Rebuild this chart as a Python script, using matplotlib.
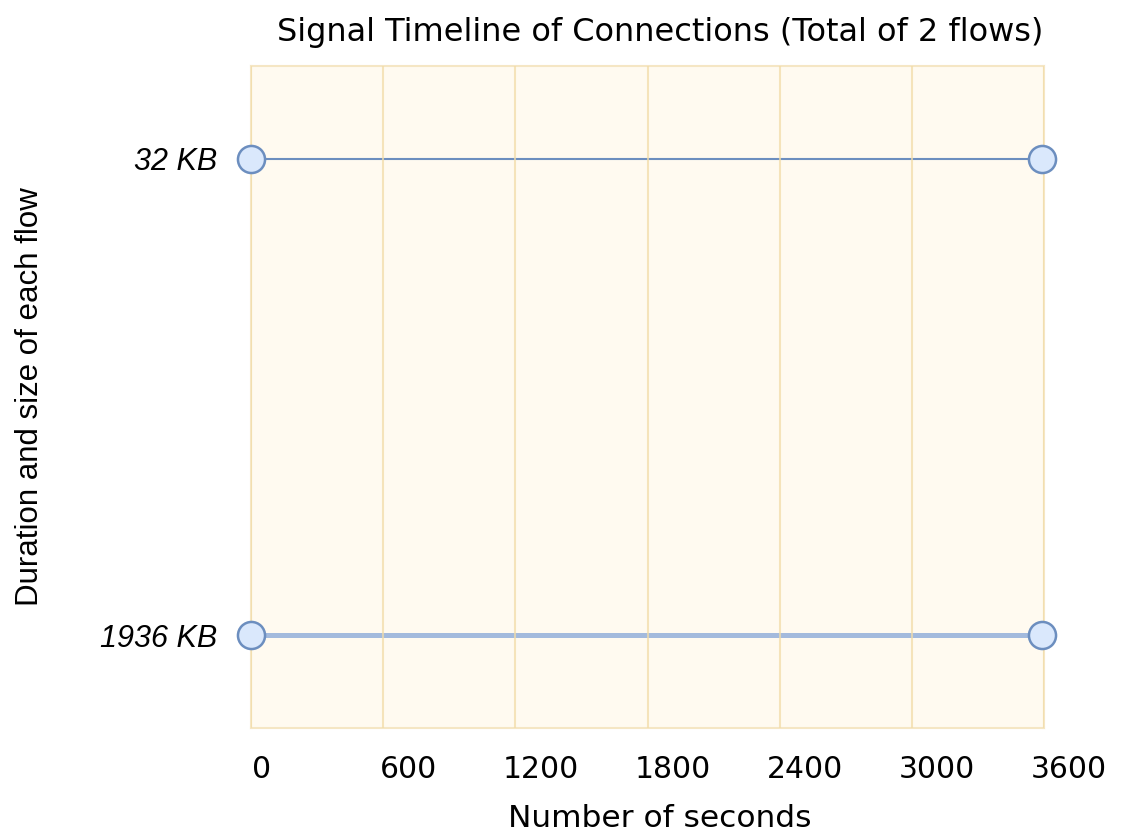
import matplotlib
matplotlib.use('Agg')
import matplotlib.pyplot as plt
import matplotlib.transforms as mtransforms

flow_labels = ['32 KB', '1936 KB']
flow_start = [0, 0]
flow_end = [3590, 3590]
flow_width = [1.5, 3.6]
flow_color = ['#6c8ebf', '#a3badd']
x_ticks = [0, 600, 1200, 1800, 2400, 3000, 3600]

fig = plt.figure(figsize=(11.21, 8.35), dpi=100)
ax = fig.add_axes([251 / 1121, 1 - 728 / 835, (1044 - 251) / 1121, (728 - 66) / 835])
ax.set_facecolor('#fffaf0')

y_pos = list(range(len(flow_labels)))
for y, s, e, w, c in zip(y_pos, flow_start, flow_end, flow_width, flow_color):
    ax.plot([s, e], [y, y], color=c, lw=w, zorder=2, solid_capstyle='butt')
    ax.plot([s, e], [y, y], ls='none', zorder=4, marker='o', markersize=19.5,
            markerfacecolor='#dae8fc', markeredgecolor='#6c8ebf',
            markeredgewidth=1.8, clip_on=False)

ax.set_xlim(0, 3600)
ax.set_ylim(-0.195, 1.195)
ax.invert_yaxis()

ax.set_xticks(x_ticks)
ax.set_xticklabels([str(t) for t in x_ticks], fontsize=21.5, family='DejaVu Sans')
ax.grid(axis='x', color='#f2dca8', lw=1.5, alpha=0.75, zorder=3)
ax.set_axisbelow(False)
ax.tick_params(axis='x', length=0, pad=19.5)
for lbl in ax.get_xticklabels():
    dx = 11 if lbl.get_text() == '0' else 25
    lbl.set_transform(lbl.get_transform() + mtransforms.ScaledTranslation(dx / 100, 0, fig.dpi_scale_trans))

ax.set_yticks(y_pos)
ax.set_yticklabels(flow_labels, fontsize=22, style='italic', family='Liberation Sans')
ax.tick_params(axis='y', length=0, pad=24)

for side in ['top', 'bottom', 'left', 'right']:
    ax.spines[side].set_color('#f5e6c4')
    ax.spines[side].set_linewidth(1.5)

ax.set_xlabel('Number of seconds', fontsize=22.5, family='DejaVu Sans', labelpad=14)
ax.xaxis.label.set_x(0.516)
ax.set_ylabel('Duration and size of each flow', fontsize=22.5, family='Liberation Sans', labelpad=40)
ax.set_title('Signal Timeline of Connections (Total of 2 flows)', fontsize=23,
             family='DejaVu Sans', pad=18, x=0.516)

fig.savefig('out.png', dpi=100)
